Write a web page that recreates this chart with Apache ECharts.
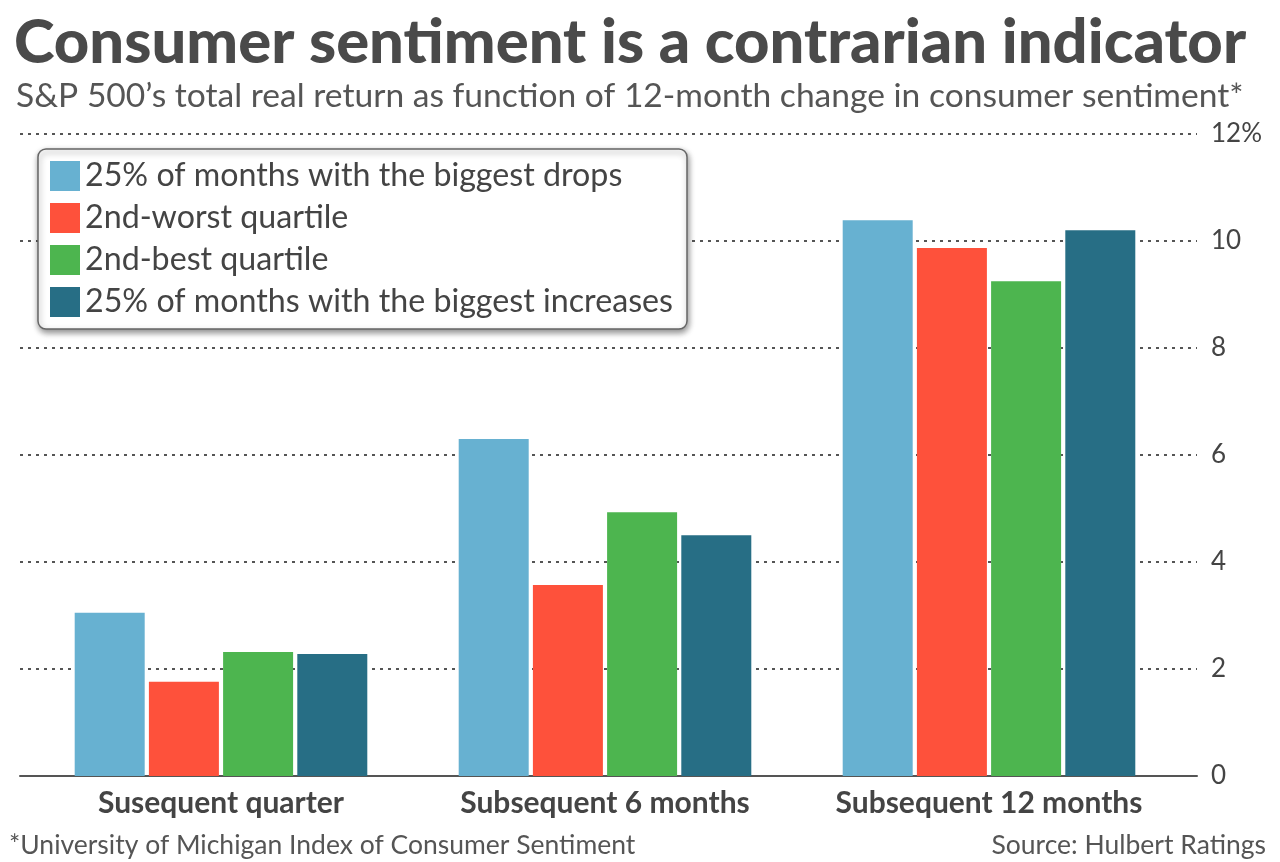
<!DOCTYPE html>
<html>
<head>
<meta charset="utf-8">
<script src="https://cdn.jsdelivr.net/npm/echarts@6/dist/echarts.min.js"></script>
<style>
html,body{margin:0;padding:0;background:#fff;}
#chart{width:1280px;height:862px;}
</style>
</head>
<body>
<div id="chart"></div>
<script>
const categories = ['Susequent quarter', 'Subsequent 6 months', 'Subsequent 12 months'];
const seriesNames = [
  '25% of months with the biggest drops',
  '2nd-worst quartile',
  '2nd-best quartile',
  '25% of months with the biggest increases'
];
const biggestDrops = [3.05, 6.30, 10.39];
const secondWorst = [1.76, 3.57, 9.87];
const secondBest = [2.32, 4.93, 9.25];
const biggestIncreases = [2.28, 4.50, 10.20];
const yTicks = [0, 2, 4, 6, 8, 10, 12];
const colors = ['#67b1d1', '#fe513b', '#4db54f', '#276e85'];
const values = [biggestDrops, secondWorst, secondBest, biggestIncreases];

const chart = echarts.init(document.getElementById('chart'));
const font = 'Lato, "Noto Sans", sans-serif';
chart.setOption({
  animation: false,
  textStyle: { fontFamily: font },
  title: [
    { text: 'Consumer sentiment is a contrarian indicator', left: 9, top: 7,
      textStyle: { fontSize: 61.5, fontWeight: 900, color: '#4a4a4a', fontFamily: font } },
    { text: 'S&P 500\u2019s total real return as function of 12-month change in consumer sentiment*', left: 11, top: 74,
      textStyle: { fontSize: 33.6, fontWeight: 'normal', color: '#555', fontFamily: font } },
    { text: '*University of Michigan Index of Consumer Sentiment', left: 4, top: 827,
      textStyle: { fontSize: 26.5, fontWeight: 'normal', color: '#555', fontFamily: font } },
    { text: 'Source: Hulbert Ratings', right: 9, top: 827,
      textStyle: { fontSize: 26.5, fontWeight: 'normal', color: '#555', fontFamily: font } }
  ],
  legend: {
    orient: 'vertical', left: 38, top: 149,
    padding: [11, 14, 11, 12],
    itemWidth: 30, itemHeight: 30, itemGap: 10,
    icon: 'rect',
    data: seriesNames,
    textStyle: { fontSize: 32.2, color: '#444', fontFamily: font },
    backgroundColor: '#fff', borderColor: '#666', borderWidth: 1.5, borderRadius: 8,
    shadowBlur: 6, shadowColor: 'rgba(0,0,0,0.45)', shadowOffsetX: 1, shadowOffsetY: 3
  },
  grid: [
    { left: 20, right: 83, top: 134, bottom: 86 },
    { left: 29, right: 99, top: 134, bottom: 86 }
  ],
  xAxis: [
    { type: 'category', gridIndex: 0, data: categories,
      axisLine: { show: true, lineStyle: { color: '#555', width: 2 } },
      axisTick: { show: false }, axisLabel: { show: false } },
    { type: 'category', gridIndex: 1, data: categories,
      axisLine: { show: false }, axisTick: { show: false },
      axisLabel: { interval: 0, hideOverlap: false, fontSize: 30, fontWeight: 'bold', color: '#444', margin: 12, fontFamily: font } }
  ],
  yAxis: [
    { type: 'value', gridIndex: 0, position: 'right', min: 0, max: 12, interval: 2,
      axisLine: { show: false }, axisTick: { show: false },
      axisLabel: { fontSize: 26, color: '#444', margin: 14, fontFamily: font,
        formatter: v => (v === yTicks[yTicks.length - 1] ? v + '%' : String(v)) },
      splitLine: { show: true, lineStyle: { color: '#555', width: 2, type: [3, 5] } } },
    { type: 'value', gridIndex: 1, min: 0, max: 12, interval: 2, show: false,
      splitLine: { show: false } }
  ],
  series: seriesNames.map((name, i) => ({
    name, type: 'bar', xAxisIndex: 1, yAxisIndex: 1,
    data: values[i], barWidth: 70, barGap: '6%',
    itemStyle: { color: colors[i] }
  }))
});
</script>
</body>
</html>
